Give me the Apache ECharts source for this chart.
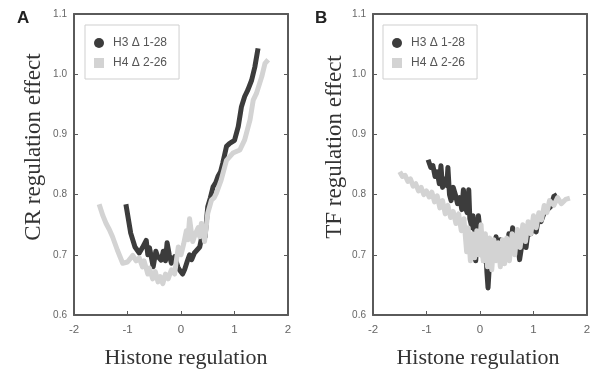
<!DOCTYPE html>
<html>
<head>
<meta charset="utf-8">
<script src="https://cdn.jsdelivr.net/npm/echarts@6/dist/echarts.min.js"></script>
<style>
  html, body {margin: 0; padding: 0; background: #fff;}
  #chart {width: 597px; height: 381px;}
</style>
</head>
<body>
<div id="chart"></div>
<script>
// values: [histone regulation, effect]
var crH3 = [[-1.03,0.784],[-0.94,0.736],[-0.86,0.713],[-0.78,0.703],[-0.72,0.712],[-0.65,0.724],[-0.62,0.700],[-0.59,0.712],
  [-0.52,0.680],[-0.47,0.706],[-0.44,0.698],[-0.37,0.691],[-0.33,0.706],[-0.29,0.690],[-0.26,0.720],[-0.22,0.700],
  [-0.18,0.686],[-0.12,0.697],[-0.06,0.680],[-0.03,0.675],[0.03,0.668],[0.07,0.676],[0.12,0.690],[0.16,0.700],
  [0.20,0.692],[0.25,0.703],[0.30,0.708],[0.35,0.713],[0.40,0.735],[0.45,0.730],[0.50,0.780],[0.55,0.795],
  [0.60,0.813],[0.65,0.820],[0.69,0.830],[0.74,0.838],[0.78,0.852],[0.85,0.880],[0.91,0.885],[1.00,0.890],
  [1.07,0.913],[1.13,0.946],[1.19,0.963],[1.25,0.974],[1.32,0.990],[1.38,1.012],[1.44,1.043]];
var crH4 = [[-1.53,0.784],[-1.46,0.765],[-1.40,0.752],[-1.34,0.742],[-1.28,0.730],[-1.19,0.708],[-1.09,0.686],[-1.00,0.688],
  [-0.90,0.699],[-0.84,0.690],[-0.78,0.695],[-0.72,0.680],[-0.69,0.690],[-0.62,0.668],[-0.59,0.678],[-0.53,0.660],
  [-0.48,0.672],[-0.43,0.655],[-0.39,0.664],[-0.34,0.652],[-0.29,0.668],[-0.24,0.660],[-0.18,0.675],[-0.12,0.668],
  [-0.08,0.695],[-0.05,0.713],[0.00,0.700],[0.05,0.718],[0.10,0.740],[0.13,0.725],[0.16,0.760],[0.19,0.740],
  [0.22,0.722],[0.27,0.735],[0.32,0.745],[0.35,0.730],[0.38,0.752],[0.42,0.735],[0.44,0.722],[0.50,0.769],
  [0.57,0.791],[0.62,0.795],[0.66,0.802],[0.75,0.824],[0.85,0.857],[0.97,0.869],[1.10,0.874],[1.19,0.891],
  [1.29,0.924],[1.35,0.957],[1.41,0.968],[1.51,0.996],[1.57,1.018],[1.63,1.024]];
var tfH3 = [[-0.97,0.858],[-0.92,0.845],[-0.88,0.848],[-0.84,0.830],[-0.80,0.838],[-0.76,0.818],[-0.73,0.848],[-0.70,0.812],
  [-0.66,0.826],[-0.62,0.815],[-0.60,0.845],[-0.57,0.800],[-0.54,0.790],[-0.50,0.812],[-0.46,0.800],[-0.42,0.785],
  [-0.38,0.795],[-0.34,0.775],[-0.31,0.808],[-0.28,0.780],[-0.24,0.770],[-0.21,0.808],[-0.19,0.760],[-0.15,0.745],
  [-0.13,0.765],[-0.10,0.740],[-0.08,0.690],[-0.05,0.735],[-0.03,0.765],[0.00,0.740],[0.03,0.720],[0.07,0.690],
  [0.10,0.730],[0.13,0.670],[0.15,0.645],[0.18,0.690],[0.22,0.715],[0.26,0.700],[0.30,0.730],[0.34,0.705],
  [0.38,0.725],[0.42,0.695],[0.46,0.720],[0.50,0.700],[0.54,0.735],[0.58,0.718],[0.61,0.745],[0.65,0.712],
  [0.70,0.722],[0.74,0.692],[0.78,0.715],[0.82,0.730],[0.86,0.712],[0.90,0.740],[0.95,0.735],[1.00,0.752],
  [1.05,0.738],[1.09,0.760],[1.14,0.755],[1.20,0.770],[1.26,0.775],[1.32,0.780],[1.38,0.797],[1.44,0.800]];
var tfH4 = [[-1.50,0.838],[-1.45,0.830],[-1.40,0.832],[-1.35,0.822],[-1.30,0.826],[-1.25,0.814],[-1.20,0.818],[-1.15,0.806],
  [-1.10,0.812],[-1.05,0.800],[-1.00,0.806],[-0.95,0.796],[-0.90,0.804],[-0.85,0.788],[-0.80,0.798],[-0.75,0.778],
  [-0.70,0.790],[-0.65,0.768],[-0.60,0.782],[-0.55,0.762],[-0.50,0.772],[-0.45,0.752],[-0.40,0.768],[-0.35,0.740],
  [-0.30,0.760],[-0.25,0.705],[-0.22,0.745],[-0.18,0.690],[-0.14,0.735],[-0.10,0.695],[-0.06,0.740],[-0.02,0.700],
  [0.02,0.750],[0.06,0.690],[0.10,0.735],[0.14,0.680],[0.18,0.728],[0.22,0.675],[0.26,0.725],[0.30,0.690],
  [0.34,0.720],[0.38,0.680],[0.42,0.725],[0.46,0.685],[0.50,0.728],[0.55,0.690],[0.60,0.735],[0.65,0.700],
  [0.70,0.742],[0.75,0.712],[0.80,0.750],[0.85,0.722],[0.90,0.755],[0.95,0.735],[1.00,0.765],[1.05,0.745],
  [1.10,0.770],[1.15,0.758],[1.20,0.782],[1.25,0.770],[1.30,0.790],[1.38,0.782],[1.45,0.795],[1.52,0.785],
  [1.60,0.792],[1.68,0.794]];
var xTicks = [-2, 2, 1];       // min, max, interval
var yTicks = [0.6, 1.1, 0.1];
var names = ['H3 \u0394 1-28', 'H4 \u0394 2-26'];

var dark = '#3c3c3c', light = '#d3d3d3', axisCol = '#5a5a5a', labelCol = '#666';
var serif = '"Liberation Serif", "DejaVu Serif", serif';
var sans = '"Liberation Sans", Arial, sans-serif';

var chart = echarts.init(document.getElementById('chart'));

function xAxisFor(i) {
  return {
    type: 'value', gridIndex: i, min: xTicks[0], max: xTicks[1], interval: xTicks[2],
    axisLine: {lineStyle: {color: axisCol, width: 2}},
    axisTick: {inside: true, length: 4, lineStyle: {color: axisCol}},
    axisLabel: {color: labelCol, fontSize: 11.5, fontFamily: sans, margin: 9},
    splitLine: {show: false}
  };
}
function yAxisFor(i, right) {
  return {
    type: 'value', gridIndex: i, min: yTicks[0], max: yTicks[1], interval: yTicks[2],
    position: right ? 'right' : 'left',
    axisLine: {show: true, onZero: false, lineStyle: {color: axisCol, width: 2}},
    axisTick: {show: true, inside: true, length: 4, lineStyle: {color: axisCol}},
    axisLabel: {show: !right, color: labelCol, fontSize: 10, fontFamily: sans, margin: 7,
      formatter: function (v) { return v.toFixed(1); }},
    splitLine: {show: false}
  };
}
function topAxisFor(i) {
  return {
    type: 'value', gridIndex: i, min: xTicks[0], max: xTicks[1], interval: xTicks[2], position: 'top',
    axisLine: {onZero: false, lineStyle: {color: axisCol, width: 2}},
    axisTick: {show: false}, axisLabel: {show: false}, splitLine: {show: false}
  };
}
function legendFor(left) {
  return {
    orient: 'vertical', left: left, top: 25,
    data: [{name: names[0], icon: 'circle'}, {name: names[1], icon: 'rect'}],
    itemWidth: 10, itemHeight: 10, itemGap: 8,
    padding: [12, 12, 10, 9],
    borderColor: '#cfcfcf', borderWidth: 1,
    textStyle: {color: '#555', fontSize: 12, fontFamily: sans, padding: [0, 0, 0, 4]},
    selectedMode: false
  };
}
function line(name, data, color, xi, yi, z) {
  return {
    name: name, type: 'line', data: data, xAxisIndex: xi, yAxisIndex: yi,
    symbol: 'none', z: z, animation: false,
    lineStyle: {color: color, width: 5, join: 'round'},
    itemStyle: {color: color}
  };
}

chart.setOption({
  animation: false,
  grid: [
    {left: 74, top: 14, width: 214, height: 301},
    {left: 373, top: 14, width: 214, height: 301}
  ],
  xAxis: [xAxisFor(0), xAxisFor(1), topAxisFor(0), topAxisFor(1)],
  yAxis: [yAxisFor(0, false), yAxisFor(1, false), yAxisFor(0, true), yAxisFor(1, true)],
  legend: [legendFor(85), legendFor(383)],
  series: [
    line(names[0], crH3, dark, 0, 0, 2),
    line(names[1], crH4, light, 0, 0, 3),
    line(names[0], tfH3, dark, 1, 1, 2),
    line(names[1], tfH4, light, 1, 1, 3)
  ],
  graphic: [
    {type: 'text', left: 17, top: 10, style: {text: 'A', font: 'bold 17px ' + sans, fill: '#222'}},
    {type: 'text', left: 315, top: 10, style: {text: 'B', font: 'bold 17px ' + sans, fill: '#222'}},
    {type: 'text', x: 34, y: 147, rotation: Math.PI / 2,
      style: {text: 'CR regulation effect', font: '23px ' + serif, fill: '#333', align: 'center', verticalAlign: 'middle'}},
    {type: 'text', x: 335, y: 147, rotation: Math.PI / 2,
      style: {text: 'TF regulation effect', font: '23px ' + serif, fill: '#333', align: 'center', verticalAlign: 'middle'}},
    {type: 'text', x: 186, y: 358,
      style: {text: 'Histone regulation', font: '22px ' + serif, fill: '#333', align: 'center', verticalAlign: 'middle'}},
    {type: 'text', x: 478, y: 358,
      style: {text: 'Histone regulation', font: '22px ' + serif, fill: '#333', align: 'center', verticalAlign: 'middle'}}
  ]
});
</script>
</body>
</html>
